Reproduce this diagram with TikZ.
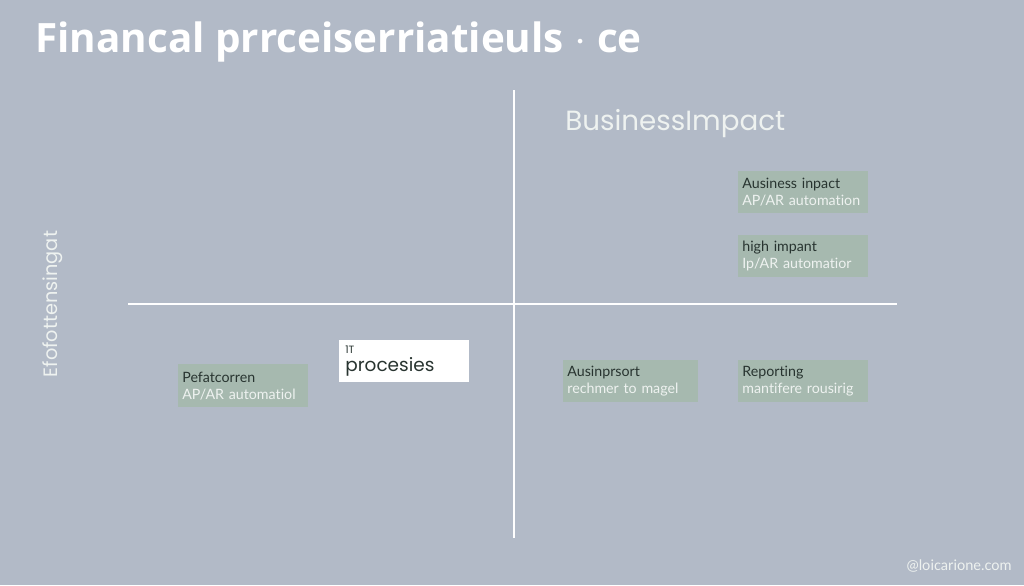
\documentclass[tikz,border=0pt]{standalone}
\usepackage{fontspec}
\setmainfont{Open Sans}
\newfontfamily\boxfont[Ligatures=NoCommon]{Lato}
\newfontfamily\headfont{Poppins}
\newcommand\quadfont{\boxfont\fontsize{8.1}{9.8}\selectfont\hyphenpenalty=10000\relax}
\usepackage{tikz}
\usetikzlibrary{calc,positioning}
\definecolor{bgcol}{RGB}{178,186,199}
\definecolor{boxcol}{RGB}{166,185,175}
\definecolor{darktext}{RGB}{40,52,48}
\definecolor{paletext}{RGB}{238,242,240}

\begin{document}
\begin{tikzpicture}[x=0.02cm,y=-0.02cm]
                      \tikzstyle{quad}=[rectangle,fill=boxcol,anchor=north west,minimum width=2.6cm,minimum height=0.84cm,inner sep=0pt,text width=2.44cm,align=left,font=\quadfont]
                      \tikzstyle{axis}=[draw=white,line width=1.1pt]
                      \fill[bgcol] (0,0) rectangle (1024,585);
                      \useasboundingbox (0,0) rectangle (1024,585);
                      % title and headings
                      \node[anchor=base west,text=white,font=\bfseries\fontsize{23}{26}\selectfont,inner sep=0pt] (title) at (35,52) {Financal prrceiserriatieuls $\cdot$ ce};
                      \node[anchor=base west,text=paletext,font=\headfont\fontsize{15.8}{18}\selectfont,inner sep=0pt] (head) at (565,130) {BusinessImpact};
                      \node[rotate=90,anchor=base,text=paletext,font=\headfont\fontsize{11}{13}\selectfont,inner sep=0pt] (ylab) at (57,304) {Efofottensingat};
                      % axes
                      \coordinate (top) at (514,90);
                      \coordinate (bottom) at (514,538);
                      \coordinate (left) at (128,304);
                      \coordinate (right) at (897,304);
                      \draw[axis] (top) -- (bottom);
                      \draw[axis] (left) -- (right);
                      % quadrant boxes
                      \node[quad] (ai) at (738,171) {\textcolor{darktext}{Ausiness inpact}\\\textcolor{paletext}{AP/AR automation}};
                      \node[quad] (hi) at (738,235) {\textcolor{darktext}{high impant}\\\textcolor{paletext}{Ip/AR automatior}};
                      \node[quad,minimum width=2.7cm,text width=2.54cm] (as) at (563,360) {\textcolor{darktext}{Ausinprsort}\\\textcolor{paletext}{rechmer to magel}};
                      \node[quad] (rp) at (738,360) {\textcolor{darktext}{Reporting}\\\textcolor{paletext}{mantifere rousirig}};
                      \node[quad,minimum height=0.86cm] (pf) at (178,364) {\textcolor{darktext}{Pefatcorren}\\\textcolor{paletext}{AP/AR automatiol}};
                      \node[quad,fill=white,font=\headfont\fontsize{6}{7}\selectfont,text width=2.36cm] (pr) at (339,340) {\textcolor{darktext}{1T}\\[1.5pt]\textcolor{darktext}{\fontsize{10.5}{11}\selectfont procesies}};
                      % footer
                      \node[anchor=base east,text=paletext,font=\boxfont\fontsize{8.3}{9}\selectfont,inner sep=0pt] (mark) at (1012,570) {@loicarione.com};
                  \end{tikzpicture}
\end{document}
